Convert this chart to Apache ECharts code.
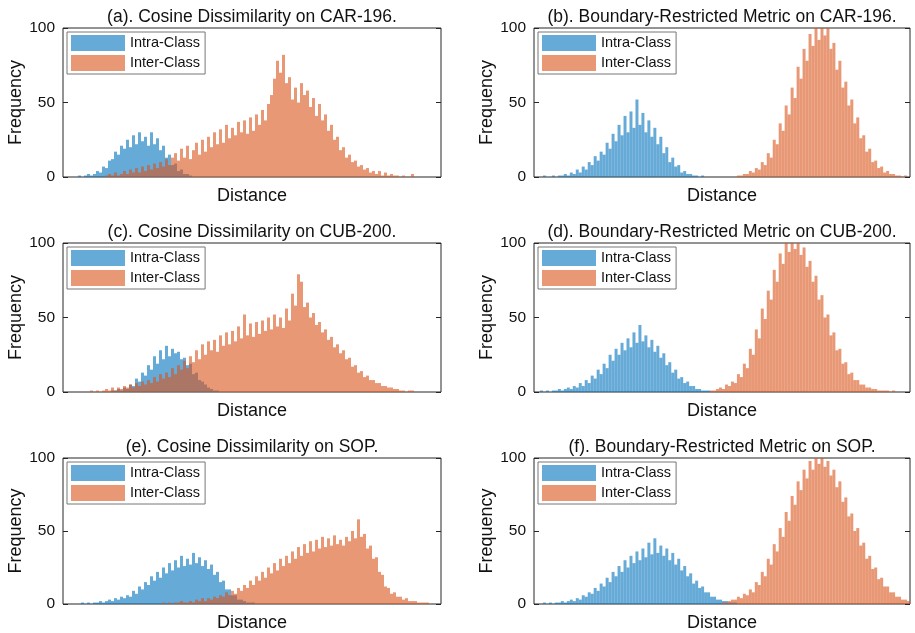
<!DOCTYPE html>
<html>
<head>
<meta charset="utf-8">
<script src="https://cdn.jsdelivr.net/npm/echarts@6/dist/echarts.min.js"></script>
<style>html,body{margin:0;padding:0;background:#fff}#c{width:915px;height:633px}</style>
</head>
<body>
<div id="c"></div>
<script>
// ---- data (histogram counts) ----
const NBINS = 126;
const binLabels = Array.from({length: NBINS}, (_, i) => 'b' + i);
const seriesNames = ['Intra-Class', 'Inter-Class'];
const panelTitles = [
  '(a). Cosine Dissimilarity on CAR-196.',
  '(b). Boundary-Restricted Metric on CAR-196.',
  '(c). Cosine Dissimilarity on CUB-200.',
  '(d). Boundary-Restricted Metric on CUB-200.',
  '(e). Cosine Dissimilarity on SOP.',
  '(f). Boundary-Restricted Metric on SOP.'
];
const yTicks = [0, 50, 100];

// (a)
const aIntraStart = 4;
const aIntra = [0,1,0,1,2,1,2,4,3,7,6,11,12,17,15,21,19,25,20,28,22,30,24,27,21,30,22,26,18,21,13,15,8,9,4,5,2,2,1];
const aInterStart = 14;
const aInter = [1,2,1,3,1,2,4,2,5,3,6,3,7,4,8,5,9,6,10,7,12,8,13,16,11,19,13,21,12,18,23,15,25,17,27,20,30,22,32,23,35,26,33,28,37,30,38,29,40,31,42,35,45,38,49,55,66,78,70,82,63,67,52,60,50,63,55,58,47,53,41,49,38,42,31,35,25,27,18,20,13,15,10,11,7,8,5,6,3,4,2,4,1,3,1,2,1,1,0,1,0,0,2];
// (b)
const bIntraStart = 3;
const bIntra = [1,0,0,1,0,1,1,2,1,3,2,5,3,7,5,10,8,14,11,17,15,23,19,29,24,35,28,41,30,44,33,52,35,43,30,38,27,33,22,27,16,20,10,13,7,8,3,4,2,2,1,1,0,1];
const bInterStart = 68;
const bInter = [1,1,2,2,4,3,6,5,10,8,16,13,25,22,36,31,48,42,60,53,74,66,86,78,96,88,100,92,100,95,100,86,90,72,78,60,64,48,52,36,40,26,28,17,19,10,11,6,7,3,4,2,2,1,1,0,1];
// (c)
const cIntraStart = 16;
const cIntra = [1,1,2,1,3,2,5,4,9,7,13,11,18,15,24,19,28,22,31,24,29,26,27,22,23,18,19,12,13,8,7,5,3,2,1,1];
const cInterStart = 9;
const cInter = [1,0,1,0,1,2,1,3,1,3,2,4,3,5,3,6,4,7,5,8,6,10,7,12,9,13,10,16,12,18,15,21,16,24,20,28,22,32,25,34,28,35,27,38,31,40,32,41,34,44,36,52,38,46,37,47,39,48,41,50,42,52,44,50,43,56,48,66,58,79,74,57,60,50,53,45,47,40,42,35,37,30,32,26,28,22,23,17,18,13,14,10,11,8,8,6,6,4,4,3,3,2,2,1,1,0,1,1];
// (d)
const dIntraStart = 2;
const dIntra = [1,0,1,0,1,1,2,1,2,3,2,4,3,6,4,8,6,11,9,15,12,19,16,25,21,29,25,33,28,36,30,40,33,45,34,38,30,35,27,31,23,26,18,20,13,15,9,10,6,7,4,4,2,2,1,1,1];
const dInterStart = 59;
const dInter = [1,1,2,3,2,5,4,7,6,12,10,19,16,29,25,42,36,56,49,68,62,82,74,93,86,100,94,100,96,100,92,97,84,88,74,78,62,65,50,52,38,40,28,29,19,20,12,13,8,8,5,5,3,3,2,2,1,1,1,1,0,1];
// (e)
const eIntraStart = 6;
const eIntra = [1,0,1,0,1,1,2,1,2,3,2,4,3,5,4,6,5,9,7,12,10,15,13,19,16,22,18,25,21,28,23,30,25,33,26,31,27,35,28,32,26,30,24,27,20,22,15,16,10,10,6,6,3,3,2,1,1,1];
const eInterStart = 33;
const eInter = [1,0,1,0,1,1,2,1,1,2,1,3,2,4,2,4,3,5,4,6,5,8,6,9,7,11,9,13,11,16,13,19,16,22,18,25,21,28,23,31,26,33,28,36,31,39,33,41,35,43,36,44,38,46,39,45,40,47,41,44,40,46,43,50,45,58,46,48,38,40,31,32,22,20,12,11,7,8,5,5,3,4,2,2,2,1,1,1,1];
// (f)
const fIntraStart = 3;
const fIntra = [1,0,1,0,1,1,2,1,2,3,2,4,3,6,5,8,7,11,9,14,12,18,15,22,19,26,22,30,25,33,28,36,30,38,32,42,34,45,35,40,33,38,30,35,27,31,23,26,19,21,14,16,11,12,8,8,5,5,3,3,2,2,1,1,1];
const fInterStart = 63;
const fInter = [1,1,2,3,3,5,4,7,6,10,8,15,13,22,19,31,27,41,36,52,46,63,57,74,68,84,78,92,86,98,92,100,96,100,94,98,88,92,80,84,70,73,60,62,50,52,40,42,31,33,24,25,17,18,12,12,8,8,5,5,3,3,2,1,1];

const panels = [
  [aIntraStart, aIntra, aInterStart, aInter],
  [bIntraStart, bIntra, bInterStart, bInter],
  [cIntraStart, cIntra, cInterStart, cInter],
  [dIntraStart, dIntra, dInterStart, dInter],
  [eIntraStart, eIntra, eInterStart, eInter],
  [fIntraStart, fIntra, fInterStart, fInter]
];

function place(start, vals) {
  const out = new Array(NBINS).fill(0);
  vals.forEach((v, i) => { if (start + i < NBINS) out[start + i] = v; });
  return out;
}

// ---- layout ----
const FONT = '"Liberation Sans", Arial, Helvetica, sans-serif';
const INK = '#262626';
const colLeft = [63, 534], colWidth = [378, 376];
const rowTop = [28, 243, 458], rowHeight = [149, 149, 148];
const colors = ['rgba(0,114,189,0.6)', 'rgba(217,83,25,0.6)'];

const option = {
  animation: false,
  backgroundColor: '#fff',
  title: [], grid: [], xAxis: [], yAxis: [], legend: [], series: []
};

panels.forEach((p, k) => {
  const r = Math.floor(k / 2), c = k % 2;
  const left = colLeft[c], top = rowTop[r], w = colWidth[c], h = rowHeight[r];
  option.title.push({
    text: panelTitles[k], left: left + w / 2, top: top - 20, textAlign: 'center', padding: 0,
    textStyle: {fontFamily: FONT, fontSize: 17.5, fontWeight: 'normal', color: '#111'}
  });
  option.grid.push({left: left, top: top, width: w, height: h, show: true,
    borderColor: INK, borderWidth: 1, backgroundColor: 'transparent'});
  option.xAxis.push({
    type: 'category', gridIndex: k, data: binLabels, boundaryGap: true,
    axisLine: {show: false}, axisTick: {show: false}, axisLabel: {show: false}, splitLine: {show: false},
    name: 'Distance', nameLocation: 'middle', nameGap: 10,
    nameTextStyle: {fontFamily: FONT, fontSize: 18, color: '#111', verticalAlign: 'top'}
  });
  const yBase = {
    type: 'value', gridIndex: k, min: 0, max: 100, interval: 50,
    splitLine: {show: false}, axisLine: {show: false},
    axisTick: {show: true, inside: true, length: 5, lineStyle: {color: INK}}
  };
  option.yAxis.push(Object.assign({}, yBase, {
    position: 'left',
    axisLabel: {fontFamily: FONT, fontSize: 15.5, color: '#111', margin: 8,
      formatter: v => yTicks.includes(v) ? String(v) : ''},
    name: 'Frequency', nameLocation: 'middle', nameGap: 36, nameRotate: 90,
    nameTextStyle: {fontFamily: FONT, fontSize: 18, color: '#111'}
  }));
  option.yAxis.push(Object.assign({}, yBase, {position: 'right', axisLabel: {show: false}}));
  option.legend.push({
    orient: 'vertical', left: left + 4, top: top + 4,
    data: seriesNames, icon: 'rect', itemWidth: 54, itemHeight: 16, itemGap: 4,
    padding: [3, 5, 3, 4], borderColor: '#777', borderWidth: 1, backgroundColor: '#fff',
    selectedMode: false,
    textStyle: {fontFamily: FONT, fontSize: 14.5, color: '#111'}
  });
  const vals = [place(p[0], p[1]), place(p[2], p[3])];
  seriesNames.forEach((nm, j) => {
    option.series.push({
      type: 'bar', name: nm, xAxisIndex: k, yAxisIndex: 2 * k,
      data: vals[j], barWidth: '100%', barGap: '-100%', barCategoryGap: 0,
      itemStyle: {color: colors[j]}, emphasis: {disabled: true}
    });
  });
});

const chart = echarts.init(document.getElementById('c'), null, {renderer: 'canvas'});
chart.setOption(option);
</script>
</body>
</html>
